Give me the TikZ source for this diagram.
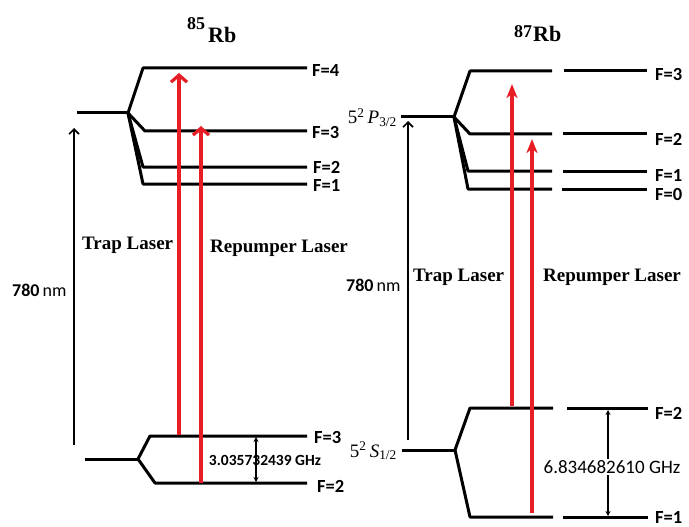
\documentclass[tikz,border=0pt]{standalone}
\usepackage{fontspec}
\setmainfont{Liberation Serif}
\newfontfamily\calfont{Carlito}
\usetikzlibrary{arrows.meta}
\definecolor{laserred}{RGB}{232,30,38}
\begin{document}
\begin{tikzpicture}[x=1pt,y=-1pt,
  lvl/.style={line width=3pt, line join=round},
  laser/.style={draw=laserred, line width=4pt},
  barbhead/.style={-{Straight Barb[length=7pt,width=16pt,line width=3.2pt]}},
  stealthhead/.style={-{Stealth[length=14pt,width=11pt,inset=4pt]}},
  trans/.style={line width=1.5pt, -{Straight Barb[length=5pt,width=10pt,line width=1.6pt]}},
  split/.style={line width=1.2pt, {Stealth[length=5pt,width=5pt]}-{Stealth[length=5pt,width=5pt]}},
  flabel/.style={font=\calfont\bfseries\fontsize{18.5}{18.5}\selectfont, anchor=west, inner sep=0pt},
  lasertext/.style={font=\bfseries\fontsize{19}{19}\selectfont, anchor=west, inner sep=0pt},
  nmtext/.style={font=\calfont\fontsize{18}{18}\selectfont, anchor=west, inner sep=0pt},
  termtext/.style={font=\fontsize{19}{19}\selectfont, anchor=base east, inner sep=0pt},
  title/.style={font=\bfseries, anchor=base west, inner sep=0pt}
]
\useasboundingbox (0,0) rectangle (689,527);
\fill[white] (0,0) rectangle (689,527);

% ---------- 85Rb ----------
\node[title] (t85) at (187,43) {\raisebox{13pt}{\fontsize{18}{18}\selectfont 85}\hspace{3pt}\fontsize{22}{22}\selectfont Rb};

% excited
\coordinate (aP0) at (77,113);
\coordinate (aP) at (128,113);
\coordinate (a4s) at (143,68);  \coordinate (a4e) at (307,68);
\coordinate (a3s) at (145,131); \coordinate (a3e) at (307,131);
\coordinate (a2s) at (143,167); \coordinate (a2e) at (307,167);
\coordinate (a1s) at (143,184); \coordinate (a1e) at (307,184);
\draw[lvl] (aP0) -- (aP);
\draw[lvl] (aP) -- (a4s) -- (a4e);
\draw[lvl] (aP) -- (a3s) -- (a3e);
\draw[lvl] (aP) -- (a2s) -- (a2e);
\draw[lvl] (aP) -- (a1s) -- (a1e);
\node[flabel] (aF4) at (312,70) {F=4};
\node[flabel] (aF3) at (312,132) {F=3};
\node[flabel] (aF2) at (313,167) {F=2};
\node[flabel] (aF1) at (313,185) {F=1};

% ground
\coordinate (aS0) at (85,459);
\coordinate (aS) at (138,459);
\coordinate (ag3s) at (150,436); \coordinate (ag3e) at (307,436);
\coordinate (ag2s) at (155,483); \coordinate (ag2e) at (307,483);
\draw[lvl] (aS0) -- (aS);
\draw[lvl] (aS) -- (ag3s) -- (ag3e);
\draw[lvl] (aS) -- (ag2s) -- (ag2e);
\node[flabel] (agF3) at (314,437) {F=3};
\node[flabel] (agF2) at (317,486) {F=2};

% 780 nm
\coordinate (a780b) at (74,445);
\coordinate (a780t) at (74,128);
\draw[trans] (a780b) -- (a780t);
\node[nmtext] (a780) at (12,290) {\textbf{780}\,nm};

% lasers
\coordinate (atrb) at (179,435); \coordinate (atrt) at (179,73);
\coordinate (arpb) at (201,483); \coordinate (arpt) at (201,126);
\draw[laser, barbhead] (atrb) -- (atrt);
\draw[laser, barbhead] (arpb) -- (arpt);
\node[lasertext] (atrap) at (82,245) {Trap Laser};
\node[lasertext] (arep) at (210,248) {Repumper Laser};

% splitting
\coordinate (ahb) at (256,437); \coordinate (aht) at (256,482);
\draw[split] (ahb) -- (aht);
\node[font=\calfont\bfseries\fontsize{15.5}{15.5}\selectfont, inner sep=0pt] (aghz) at (265,460) {3.035732439 GHz};

% ---------- 87Rb ----------
\node[title] (t87) at (514,42) {\raisebox{5pt}{\fontsize{18}{18}\selectfont 87}\hspace{1pt}\fontsize{22}{22}\selectfont Rb};

% excited
\coordinate (bP0) at (401,117);
\coordinate (bP) at (454,117);
\coordinate (b3s) at (470,71);  \coordinate (b3m) at (552,71);  \coordinate (b3n) at (564,71);  \coordinate (b3e) at (647,71);
\coordinate (b2s) at (470,134); \coordinate (b2m) at (552,134); \coordinate (b2n) at (563,134); \coordinate (b2e) at (647,134);
\coordinate (b1s) at (468,171); \coordinate (b1m) at (552,171); \coordinate (b1n) at (563,171); \coordinate (b1e) at (647,171);
\coordinate (b0s) at (468,189); \coordinate (b0m) at (552,189); \coordinate (b0n) at (562,189); \coordinate (b0e) at (647,189);
\draw[lvl] (bP0) -- (bP);
\draw[lvl] (bP) -- (b3s) -- (b3m); \draw[lvl] (b3n) -- (b3e);
\draw[lvl] (bP) -- (b2s) -- (b2m); \draw[lvl] (b2n) -- (b2e);
\draw[lvl] (bP) -- (b1s) -- (b1m); \draw[lvl] (b1n) -- (b1e);
\draw[lvl] (bP) -- (b0s) -- (b0m); \draw[lvl] (b0n) -- (b0e);
\node[flabel] (bF3) at (655,74) {F=3};
\node[flabel] (bF2) at (655,139) {F=2};
\node[flabel] (bF1) at (655,175) {F=1};
\node[flabel] (bF0) at (655,194) {F=0};
\node[termtext] (bPlab) at (397,124) {5\textsuperscript{2}\,\textit{P}\textsubscript{3/2}};

% ground
\coordinate (bS0) at (402,450);
\coordinate (bS) at (455,450);
\coordinate (bg2s) at (470,408); \coordinate (bg2m) at (553,408); \coordinate (bg2n) at (567,408); \coordinate (bg2e) at (648,408);
\coordinate (bg1s) at (470,517); \coordinate (bg1m) at (553,517); \coordinate (bg1n) at (563,517); \coordinate (bg1e) at (648,517);
\draw[lvl] (bS0) -- (bS);
\draw[lvl] (bS) -- (bg2s) -- (bg2m); \draw[lvl] (bg2n) -- (bg2e);
\draw[lvl] (bS) -- (bg1s) -- (bg1m); \draw[lvl] (bg1n) -- (bg1e);
\node[flabel] (bgF2) at (655,413) {F=2};
\node[flabel] (bgF1) at (655,517) {F=1};
\node[termtext] (bSlab) at (397,457) {5\textsuperscript{2}\,\textit{S}\textsubscript{1/2}};

% 780 nm
\coordinate (b780b) at (408,440);
\coordinate (b780t) at (408,121);
\draw[trans] (b780b) -- (b780t);
\node[nmtext] (b780) at (346,285) {\textbf{780}\,nm};

% lasers
\coordinate (btrb) at (512,406); \coordinate (btrt) at (512,84);
\coordinate (brpb) at (532,513); \coordinate (brpt) at (532,139);
\draw[laser, stealthhead] (btrb) -- (btrt);
\draw[laser, stealthhead] (brpb) -- (brpt);
\node[lasertext] (btrap) at (413,277) {Trap Laser};
\node[lasertext] (brep) at (543,277) {Repumper Laser};

% splitting
\coordinate (bhb) at (608,410); \coordinate (bht) at (608,516);
\draw[split] (bhb) -- (bht);
\node[font=\calfont\fontsize{19}{19}\selectfont, fill=white, inner sep=1pt] (bghz) at (612,467) {6.834682610 GHz};
\end{tikzpicture}
\end{document}
